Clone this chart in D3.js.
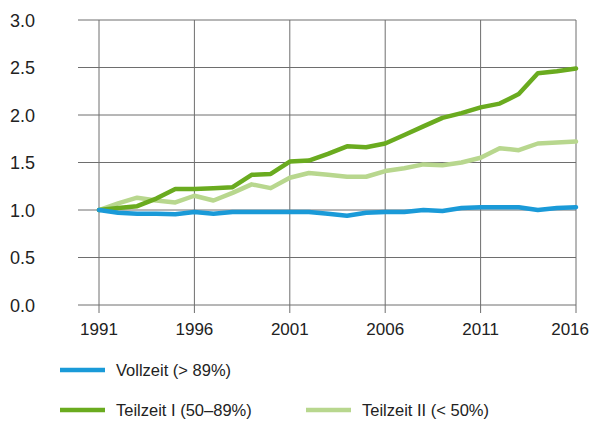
<!DOCTYPE html>
<html><head><meta charset="utf-8">
<script src="https://cdn.jsdelivr.net/npm/d3@7"></script>
<style>
html,body{margin:0;padding:0;background:#fff;}
svg text{font-family:"Liberation Sans Narrow","Liberation Sans",sans-serif;fill:#222;}
</style></head>
<body><svg id="c" width="595" height="425"></svg>
<script>
const years = d3.range(1991, 2017);
const xTickLabels = ["1991","1996","2001","2006","2011","2016"];
const yTickLabels = ["0.0","0.5","1.0","1.5","2.0","2.5","3.0"];
const vollzeit = [1.00,0.97,0.96,0.96,0.955,0.98,0.96,0.98,0.98,0.98,0.98,0.98,0.96,0.94,0.97,0.98,0.98,1.00,0.99,1.02,1.03,1.03,1.03,1.00,1.02,1.03];
const teilzeitI = [1.00,1.02,1.04,1.12,1.22,1.22,1.23,1.24,1.37,1.38,1.51,1.52,1.59,1.67,1.66,1.70,1.79,1.88,1.97,2.02,2.08,2.12,2.22,2.44,2.46,2.49];
const teilzeitII = [1.00,1.07,1.13,1.10,1.08,1.15,1.10,1.18,1.27,1.23,1.34,1.39,1.37,1.35,1.35,1.41,1.44,1.48,1.47,1.50,1.55,1.65,1.63,1.70,1.71,1.72];
const seriesNames = ["Vollzeit (> 89%)","Teilzeit I (50–89%)","Teilzeit II (< 50%)"];
const colors = ["#1a9ad8","#6aab1f","#b8d78e"];

const svg = d3.select("#c");
const x = d3.scaleLinear().domain([1991,2016]).range([99,576]);
const y = d3.scaleLinear().domain([0,3]).range([305,20]);

// horizontal grid
const yt = yTickLabels.map(Number);
svg.append("g").selectAll("line").data(yt).join("line")
  .attr("x1",78).attr("x2",576).attr("y1",d=>y(d)).attr("y2",d=>y(d))
  .attr("stroke","#6e6e6e").attr("stroke-width",1);
// vertical grid
const xt = xTickLabels.map(Number);
svg.append("g").selectAll("line").data(xt).join("line")
  .attr("x1",d=>x(d)).attr("x2",d=>x(d)).attr("y1",y(3)).attr("y2",y(0)+8)
  .attr("stroke","#6e6e6e").attr("stroke-width",1);

// y labels
svg.append("g").selectAll("text").data(yTickLabels).join("text")
  .attr("x",35).attr("y",d=>y(+d)+6.5).attr("text-anchor","end")
  .style("font-size","18px").text(d=>d);
// x labels
svg.append("g").selectAll("text").data(xTickLabels).join("text")
  .attr("x",(d,i)=> i===xTickLabels.length-1 ? 589 : x(+d))
  .attr("y",335).attr("text-anchor",(d,i)=> i===xTickLabels.length-1 ? "end" : "middle")
  .style("font-size","17px").text(d=>d);

const line = d3.line().x((d,i)=>x(years[i])).y(d=>y(d));
const data = [teilzeitII, teilzeitI, vollzeit];
const cols = [colors[2],colors[1],colors[0]];
svg.append("g").selectAll("path").data(data).join("path")
  .attr("d",line).attr("fill","none").attr("stroke",(d,i)=>cols[i])
  .attr("stroke-width",4.5).attr("stroke-linejoin","round").attr("stroke-linecap","round");

// legend
const leg = [{n:seriesNames[0],c:colors[0],x:60,y:370},{n:seriesNames[1],c:colors[1],x:60,y:410},{n:seriesNames[2],c:colors[2],x:306,y:410}];
const lg = svg.append("g").selectAll("g").data(leg).join("g").attr("transform",d=>`translate(${d.x},${d.y})`);
lg.append("line").attr("x1",0).attr("x2",45).attr("stroke",d=>d.c).attr("stroke-width",4.5);
lg.append("text").attr("x",56).attr("y",6).style("font-size","16.5px").text(d=>d.n);
</script></body></html>
